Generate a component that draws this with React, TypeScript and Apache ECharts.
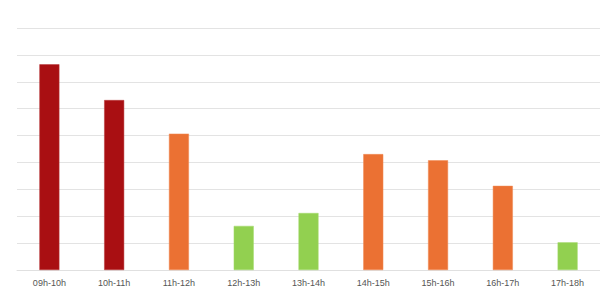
import React, { useEffect, useRef } from "react";
import * as echarts from "echarts";

const categories = ["09h-10h", "10h-11h", "11h-12h", "12h-13h", "13h-14h", "14h-15h", "15h-16h", "16h-17h", "17h-18h"];
const values = [76.5, 63.2, 50.7, 16.4, 21.2, 43.1, 40.8, 31.3, 10.3];
const levels = ["high", "high", "mid", "low", "low", "mid", "mid", "mid", "low"];
const levelColors: Record<string, string> = { high: "#a90f12", mid: "#eb7133", low: "#92d050" };
const levelBorders: Record<string, string> = { high: "#b8383a", mid: "#f08a55", low: "#a3d96b" };

export default function App() {
  const ref = useRef<HTMLDivElement>(null);
  useEffect(() => {
    document.body.style.margin = "0";
    const chart = echarts.init(ref.current!, null, { renderer: "svg" });
    chart.setOption({
      animation: false,
      grid: { left: 17, top: 28, width: 585, bottom: 37, containLabel: false },
      xAxis: {
        type: "category",
        data: categories,
        axisLine: { show: true, lineStyle: { color: "#e0e0e0", width: 1 } },
        axisTick: { show: false },
        axisLabel: { color: "#555", fontSize: 9, fontFamily: "Liberation Sans, Arial, sans-serif", margin: 8 },
      },
      yAxis: {
        type: "value",
        min: 0,
        max: 90,
        interval: 10,
        axisLabel: { show: false },
        axisLine: { show: false },
        axisTick: { show: false },
        splitLine: { lineStyle: { color: "#e3e3e3", width: 1 } },
      },
      series: [
        {
          type: "bar",
          barWidth: 20,
          data: values.map((v, i) => ({
            value: v,
            itemStyle: { color: levelColors[levels[i]], borderColor: levelBorders[levels[i]], borderWidth: 0.5 },
          })),
        },
      ],
    });
    return () => chart.dispose();
  }, []);
  return <div ref={ref} style={{ width: 600, height: 307 }} />;
}
